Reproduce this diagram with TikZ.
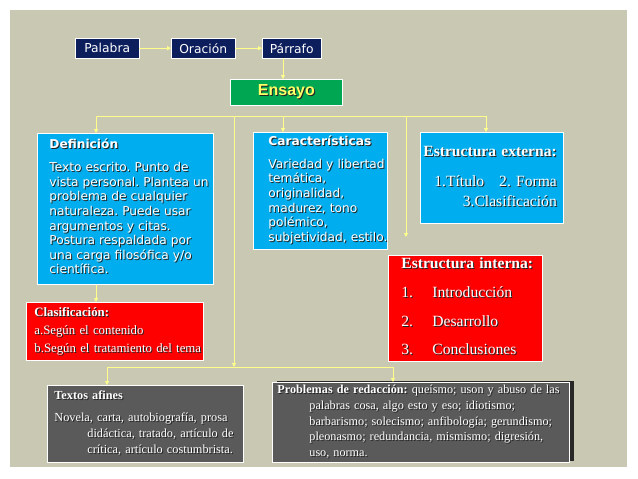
\documentclass[tikz,border=0pt]{standalone}
\usepackage{fontspec}
\setmainfont{Liberation Serif}
\setsansfont{DejaVu Sans}
\newfontfamily\arial{Liberation Sans}
\usetikzlibrary{arrows.meta,positioning,shadows}
\frenchspacing
\definecolor{fondo}{RGB}{201,200,178}
\definecolor{marino}{RGB}{12,30,92}
\definecolor{verde}{RGB}{0,166,81}
\definecolor{celeste}{RGB}{0,174,239}
\definecolor{rojo}{RGB}{255,0,0}
\definecolor{pizarra}{RGB}{90,90,90}
\definecolor{amarillo}{RGB}{255,255,140}
\definecolor{oro}{RGB}{255,255,102}
\definecolor{negruzco}{RGB}{35,35,35}
\newcommand{\sombra}[1]{\leavevmode\rlap{\kern1pt\raisebox{-1pt}{\color{negruzco}#1}}#1}
\tikzset{
  paso/.style={draw=white,fill=marino,text=white,inner sep=0pt,anchor=north west,
               minimum height=20pt,font=\sffamily\fontsize{12.3}{14}\selectfont},
  caja/.style={draw=white,line width=0.8pt,text=white,anchor=north west,
               align=left,inner ysep=0pt},
  flecha/.style={amarillo,line width=0.8pt,-{Triangle[length=4pt,width=4pt]}},
  linea/.style={amarillo,line width=0.8pt}
}

\begin{document}
\begin{tikzpicture}[x=1pt,y=-1pt]
  \useasboundingbox (0,0) rectangle (638,479);
  \fill[fondo] (10,10) rectangle (627,467);
  % fila de arriba
  \node[paso,minimum width=64pt] (palabra) at (75,38) {Palabra};
  \node[paso,minimum width=64pt] (oracion) at (171,38) {Oración};
  \node[paso,minimum width=59pt] (parrafo) at (262,38) {Párrafo};
  \node[caja,fill=verde,text=oro,minimum width=112pt,minimum height=26pt,inner sep=0pt,align=center,
        font=\arial\bfseries\fontsize{16}{18}\selectfont] (ensayo) at (230,79) {\sombra{Ensayo}};
  % cajas azules
  \node[caja,fill=celeste,inner xsep=12pt,text width=152pt,minimum height=151pt,
        font=\sffamily\fontsize{12.2}{14.6}\selectfont] (definicion) at (37,133)
    {\sombra{\begin{tabular}{@{}l@{}}\bfseries Definición\\[8.4pt]
      Texto escrito. Punto de\\vista personal. Plantea un\\problema de cualquier\\
      naturaleza. Puede usar\\argumentos y citas.\\Postura respaldada por\\
      una carga filosófica y/o\\científica.\end{tabular}}};
  \node[caja,fill=celeste,inner xsep=15pt,text width=104pt,minimum height=117pt,
        font=\sffamily\fontsize{12.2}{14.6}\selectfont] (caracteristicas) at (253,132)
    {\sombra{\begin{tabular}{@{}l@{}}\bfseries Características\\[8.4pt]
      Variedad y libertad\\temática,\\originalidad,\\madurez, tono\\polémico,\\
      subjetividad, estilo.\end{tabular}}};
  \node[caja,fill=celeste,inner xsep=3pt,text width=137pt,minimum height=91pt,
        font=\fontsize{15.6}{20}\selectfont] (externa) at (420,132)
    {\sombra{\begin{tabular}{@{}r@{}}\bfseries Estructura externa:\\[10pt]
      1.Título\hspace{15pt}2. Forma\\3.Clasificación\end{tabular}}};
  % cajas rojas
  \node[caja,fill=rojo,inner xsep=13pt,text width=128pt,minimum height=106pt,
        font=\fontsize{15.6}{17}\selectfont] (interna) at (388,255)
    {\sombra{\begin{tabular}{@{}p{31pt}@{}l@{}}\multicolumn{2}{@{}l@{}}{\bfseries Estructura interna:}\\[12pt]
      1.&Introducción\\[12pt]2.&Desarrollo\\[11pt]3.&Conclusiones\end{tabular}}};
  \node[caja,fill=rojo,inner xsep=8pt,text width=161pt,minimum height=58pt,
        font=\fontsize{12.8}{18}\selectfont] (clasificacion) at (26,302)
    {\sombra{\begin{tabular}{@{}l@{}}\bfseries Clasificación:\\a.Según el contenido\\
      b.Según el tratamiento del tema\end{tabular}}};
  % cajas grises
  \node[caja,fill=pizarra,inner xsep=7pt,text width=182pt,minimum height=77pt,
        font=\fontsize{12.3}{16}\selectfont] (afines) at (47,385)
    {\sombra{\begin{tabular}{@{}l@{}}\bfseries Textos afines\\[6pt]
      Novela, carta, autobiografía, prosa\\\hspace*{33pt}didáctica, tratado, artículo de\\
      \hspace*{33pt}crítica, artículo costumbrista.\end{tabular}}};
  \node[caja,fill=pizarra,inner xsep=5pt,text width=287pt,minimum height=80pt,
        drop shadow={shadow xshift=5pt,shadow yshift=1pt,fill=black!55!pizarra,opacity=1},
        font=\fontsize{12.2}{15.7}\selectfont] (problemas) at (272,382)
    {\sombra{\begin{tabular}{@{}l@{}}\textbf{Problemas de redacción:} queísmo; uson y abuso de las\\
      \hspace*{32pt}palabras cosa, algo esto y eso; idiotismo;\\
      \hspace*{32pt}barbarismo; solecismo; anfibología; gerundismo;\\
      \hspace*{32pt}pleonasmo; redundancia, mismismo; digresión,\\
      \hspace*{32pt}uso, norma.\end{tabular}}};
  % conectores
  \coordinate (bi) at (96,116);
  \coordinate (bc) at (234,116);
  \coordinate (bm) at (283,116);
  \coordinate (bs) at (406,116);
  \coordinate (bd) at (486,116);
  \coordinate (fin) at (406,237);
  \coordinate (ri) at (107,367);
  \coordinate (rd) at (393,367);
  \draw[flecha] (palabra) -- (oracion);
  \draw[flecha] (oracion) -- (parrafo);
  \draw[flecha] (bm |- parrafo.south) -- (bm |- ensayo.north);
  \draw[linea] (bi) -- (bd);
  \draw[flecha] (bi) -- (bi |- definicion.north);
  \draw[flecha] (bm) -- (bm |- caracteristicas.north);
  \draw[flecha] (bd) -- (bd |- externa.north);
  \draw[flecha] (bs) -- (fin);
  \draw[flecha] (bi |- definicion.south) -- (bi |- clasificacion.north);
  \draw[flecha] (bc) -- (bc |- ri);
  \draw[linea] (ri) -- (rd);
  \draw[flecha] (ri) -- (ri |- afines.north);
  \draw[flecha] (rd) -- (rd |- problemas.north);
\end{tikzpicture}
\end{document}
